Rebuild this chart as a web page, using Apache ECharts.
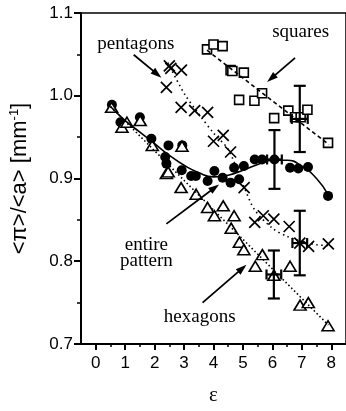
<!DOCTYPE html>
<html>
<head>
<meta charset="utf-8">
<script src="https://cdn.jsdelivr.net/npm/echarts@6/dist/echarts.min.js"></script>
<style>
  html, body { margin: 0; padding: 0; background: #fff; }
  #chart { width: 346px; height: 411px; }
</style>
</head>
<body>
<div id="chart"></div>
<script>
// Axis ticks
const xTicks = [0, 1, 2, 3, 4, 5, 6, 7, 8];
const xMinorTicks = [0.5, 1.5, 2.5, 3.5, 4.5, 5.5, 6.5, 7.5];

// Entire pattern (filled circles): [epsilon, <pi>/<a>]
const entirePattern = [
  [0.55, 0.989], [0.84, 0.968], [1.50, 0.974], [1.89, 0.948], [2.47, 0.940],
  [2.36, 0.926], [2.40, 0.918], [2.94, 0.940], [2.92, 0.910], [3.24, 0.903],
  [3.40, 0.903], [3.80, 0.897], [4.03, 0.909], [4.31, 0.901], [4.58, 0.895],
  [4.70, 0.913], [4.87, 0.899], [5.03, 0.915], [5.40, 0.923], [5.65, 0.923],
  [6.07, 0.923], [6.60, 0.913], [6.88, 0.912], [7.21, 0.914], [7.89, 0.879]
];
// Fitted curve through the entire-pattern points
const entireFit = [
  [0.5, 0.987], [1.0, 0.970], [1.5, 0.956], [2.0, 0.942], [2.5, 0.928],
  [3.0, 0.916], [3.5, 0.907], [4.0, 0.902], [4.5, 0.904], [5.0, 0.910],
  [5.5, 0.917], [6.0, 0.922], [6.5, 0.922], [7.0, 0.915], [7.5, 0.900],
  [7.9, 0.880]
];

// Hexagons (open triangles)
const hexagons = [
  [0.54, 0.986], [0.89, 0.962], [1.06, 0.968], [1.51, 0.970], [1.92, 0.940],
  [2.40, 0.906], [2.46, 0.908], [2.93, 0.939], [2.90, 0.889], [3.41, 0.881],
  [3.80, 0.865], [4.03, 0.855], [4.33, 0.867], [4.70, 0.855], [4.60, 0.840],
  [4.88, 0.823], [5.03, 0.814], [5.66, 0.808], [5.42, 0.794], [6.05, 0.783],
  [6.60, 0.794], [6.94, 0.747], [7.22, 0.750], [7.89, 0.722]
];
const hexagonFit = [[0.5, 0.987], [7.9, 0.723]];

// Pentagons (crosses)
const pentagons = [
  [2.40, 1.010], [2.50, 1.036], [2.55, 1.033], [2.91, 1.031], [2.90, 0.986],
  [3.36, 0.982], [3.80, 0.980], [4.00, 0.945], [4.33, 0.952], [4.58, 0.932],
  [5.04, 0.889], [5.40, 0.847], [5.69, 0.855], [6.05, 0.851], [6.57, 0.842],
  [6.93, 0.822], [7.23, 0.818], [7.90, 0.821]
];
const pentagonFit = [
  [2.45, 1.040], [3.0, 1.003], [3.5, 0.978], [4.0, 0.955], [4.5, 0.935],
  [5.0, 0.893], [5.4, 0.862], [6.0, 0.840], [6.5, 0.830], [7.0, 0.824],
  [7.5, 0.820], [7.9, 0.819]
];

// Squares (open squares)
const squares = [
  [3.78, 1.056], [4.00, 1.062], [4.31, 1.060], [4.58, 1.031], [4.64, 1.030],
  [5.03, 1.028], [4.87, 0.995], [5.39, 0.994], [5.65, 1.003], [6.06, 0.973],
  [6.54, 0.982], [6.77, 0.974], [6.96, 0.974], [7.19, 0.983], [7.89, 0.943]
];
const squareFit = [[3.78, 1.055], [7.92, 0.941]];

// Mean values with error bars: [epsilon, value, epsilon error, value error]
const errorBars = [
  [6.07, 0.923, 0.25, 0.0355],
  [6.93, 0.972, 0.27, 0.040],
  [6.93, 0.822, 0.25, 0.039],
  [6.05, 0.784, 0.25, 0.029]
];

// Annotation labels and arrows (data coordinates)
const labels = [
  { text: 'pentagons', at: [1.36, 1.062] },
  { text: 'squares', at: [6.96, 1.077] },
  { text: 'entire', at: [1.72, 0.820] },
  { text: 'pattern', at: [1.72, 0.800] },
  { text: 'hexagons', at: [3.53, 0.733] }
];
const arrows = [
  { from: [1.29, 1.0495], to: [2.23, 1.0219] },
  { from: [6.77, 1.0457], to: [5.82, 1.0167] },
  { from: [2.40, 0.8452], to: [4.19, 0.8929] },
  { from: [3.63, 0.7500], to: [5.12, 0.7957] }
];

const BLACK = '#000';
const SANS = "'Liberation Sans', Arial, Helvetica, sans-serif";
const SERIF = "'Liberation Serif', 'Times New Roman', serif";
const CROSS = 'path://M0,0L10,10M10,0L0,10';

const chart = echarts.init(document.getElementById('chart'), null, { renderer: 'canvas' });

const option = {
  animation: false,
  backgroundColor: '#fff',
  grid: {
    left: 81, top: 13, width: 268, height: 336,
    show: true, borderColor: BLACK, borderWidth: 1.5, backgroundColor: 'transparent'
  },
  xAxis: [
    {
      type: 'value', min: -0.5, max: 8.5,
      position: 'bottom',
      axisLine: { show: true, onZero: false, lineStyle: { color: BLACK, width: 2 } },
      axisTick: { show: true, inside: false, length: 6, customValues: xTicks, lineStyle: { color: BLACK, width: 2 } },
      axisLabel: { show: true, customValues: xTicks, margin: 11, color: BLACK, fontSize: 17, fontFamily: SANS },
      splitLine: { show: false },
      name: 'ε',
      nameLocation: 'middle',
      nameGap: 41,
      nameTextStyle: { color: BLACK, fontSize: 21, fontFamily: SERIF }
    },
    {
      type: 'value', min: -0.5, max: 8.5,
      position: 'bottom',
      axisLine: { show: false },
      axisTick: { show: true, inside: false, length: 3, customValues: xMinorTicks, lineStyle: { color: BLACK, width: 1.5 } },
      axisLabel: { show: false },
      splitLine: { show: false }
    }
  ],
  yAxis: {
    type: 'value', min: 0.7, max: 1.1, interval: 0.1,
    axisLine: { show: true, onZero: false, lineStyle: { color: BLACK, width: 2 } },
    axisTick: { show: true, inside: false, length: 7, lineStyle: { color: BLACK, width: 2 } },
    minorTick: { show: true, splitNumber: 2, length: 4, lineStyle: { color: BLACK, width: 1.5 } },
    axisLabel: {
      margin: 8, color: BLACK, fontSize: 17, fontFamily: SANS,
      formatter: v => v.toFixed(1)
    },
    splitLine: { show: false },
    name: '{a|<π>/<a> [mm}{s|-1}{a|]}',
    nameLocation: 'middle',
    nameGap: 50,
    nameTextStyle: {
      rich: {
        a: { color: BLACK, fontSize: 22, fontFamily: SANS },
        s: { color: BLACK, fontSize: 13, fontFamily: SANS, padding: [0, 0, 10, 0] }
      }
    }
  },
  series: [
    {
      name: 'entire fit', type: 'line', data: entireFit, smooth: true, showSymbol: false,
      lineStyle: { color: BLACK, width: 1.6 }, silent: true
    },
    {
      name: 'hexagon fit', type: 'line', data: hexagonFit, showSymbol: false,
      lineStyle: { color: BLACK, width: 1.6, type: [1.5, 2.5] }, silent: true
    },
    {
      name: 'pentagon fit', type: 'line', data: pentagonFit, smooth: 0.3, showSymbol: false,
      lineStyle: { color: BLACK, width: 1.6, type: [1.5, 3.5] }, silent: true
    },
    {
      name: 'square fit', type: 'line', data: squareFit, showSymbol: false,
      lineStyle: { color: BLACK, width: 1.6, type: [4, 3] }, silent: true
    },
    {
      name: 'entire pattern', type: 'scatter', data: entirePattern,
      symbol: 'circle', symbolSize: 10,
      itemStyle: { color: BLACK, opacity: 1 }
    },
    {
      name: 'pentagons', type: 'scatter', data: pentagons,
      symbol: CROSS, symbolSize: 11,
      itemStyle: { color: 'transparent', borderColor: BLACK, borderWidth: 1.7, opacity: 1 }
    },
    {
      name: 'squares', type: 'scatter', data: squares,
      symbol: 'rect', symbolSize: 9,
      itemStyle: { color: '#fff', borderColor: BLACK, borderWidth: 1.6, opacity: 1 }
    },
    {
      name: 'hexagons', type: 'scatter', data: hexagons,
      symbol: 'triangle', symbolSize: [12, 10],
      itemStyle: { color: '#fff', borderColor: BLACK, borderWidth: 1.6, opacity: 1 }
    },
    {
      name: 'error bars', type: 'custom', data: errorBars,
      encode: { x: 0, y: 1 },
      renderItem: function (params, api) {
        const x = api.value(0), y = api.value(1), dx = api.value(2), dy = api.value(3);
        const top = api.coord([x, y + dy]);
        const bot = api.coord([x, y - dy]);
        const lft = api.coord([x - dx, y]);
        const rgt = api.coord([x + dx, y]);
        const cw = 6, ch = 5;
        const style = { stroke: BLACK, lineWidth: 2.2, fill: null };
        const seg = (x1, y1, x2, y2) => ({ type: 'line', shape: { x1, y1, x2, y2 }, style });
        return {
          type: 'group',
          children: [
            seg(top[0], top[1], bot[0], bot[1]),
            seg(top[0] - cw, top[1], top[0] + cw, top[1]),
            seg(bot[0] - cw, bot[1], bot[0] + cw, bot[1]),
            seg(lft[0], lft[1], rgt[0], rgt[1]),
            seg(lft[0], lft[1] - ch, lft[0], lft[1] + ch),
            seg(rgt[0], rgt[1] - ch, rgt[0], rgt[1] + ch)
          ]
        };
      },
      z: 5
    }
  ]
};

chart.setOption(option);

// Annotation texts and arrows, placed through the grid's coordinate system
function buildAnnotations() {
  const toPx = p => chart.convertToPixel({ gridIndex: 0 }, p);
  const elements = [];
  labels.forEach(l => {
    const p = toPx(l.at);
    elements.push({
      type: 'text', x: p[0], y: p[1], z: 20,
      style: {
        text: l.text, fill: BLACK, font: '19px ' + SERIF,
        align: 'center', verticalAlign: 'middle'
      }
    });
  });
  arrows.forEach(a => {
    const p0 = toPx(a.from), p1 = toPx(a.to);
    const dx = p1[0] - p0[0], dy = p1[1] - p0[1];
    const len = Math.hypot(dx, dy);
    const ux = dx / len, uy = dy / len;
    const hl = 11, hw = 3.6;
    const bx = p1[0] - ux * hl, by = p1[1] - uy * hl;
    elements.push({
      type: 'line', z: 20,
      shape: { x1: p0[0], y1: p0[1], x2: bx + ux * 2, y2: by + uy * 2 },
      style: { stroke: BLACK, lineWidth: 1.8 }
    });
    elements.push({
      type: 'polygon', z: 20,
      shape: { points: [[p1[0], p1[1]], [bx - uy * hw, by + ux * hw], [bx + uy * hw, by - ux * hw]] },
      style: { fill: BLACK }
    });
  });
  chart.setOption({ graphic: { elements } });
}
buildAnnotations();
</script>
</body>
</html>
